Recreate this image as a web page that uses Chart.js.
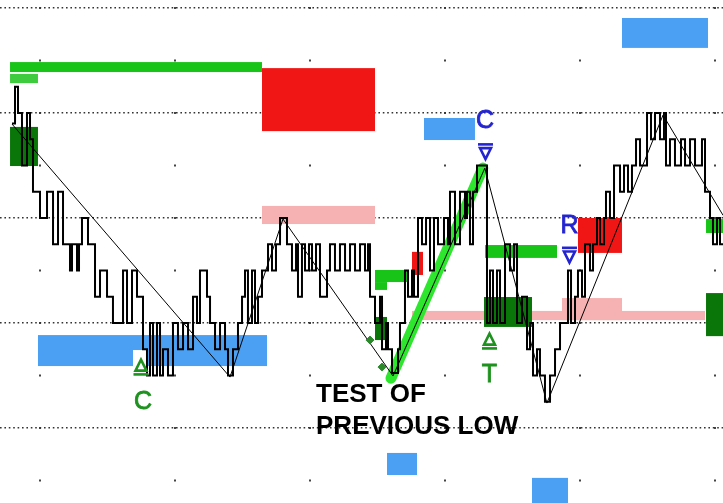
<!DOCTYPE html>
<html><head><meta charset="utf-8">
<script src="https://cdn.jsdelivr.net/npm/chart.js@4.4.0/dist/chart.umd.min.js"></script>
<style>html,body{margin:0;padding:0;background:#fff;}#wrap{width:723px;height:503px;position:relative;}</style>
</head><body><div id="wrap"><canvas id="c"></canvas></div>
<script>
// ---- data (x = bar time, 20 bars per vertical grid; y = price in box units) ----
const stepX = [-4.15,-3.70,-3.26,-2.67,-1.93,-1.48,-1.04,0,1.04,1.93,2.67,3.41,4.44,4.74,5.48,5.78,6.22,7.11,8.15,8.89,9.93,10.81,12.30,12.89,13.63,14.37,15.26,15.85,16.30,16.74,17.33,17.78,18.22,18.96,19.70,20.44,21.19,21.93,22.67,23.26,23.70,24.74,25.19,25.93,26.67,27.41,27.85,28.59,29.33,29.93,
30.37,30.81,31.41,31.85,32.30,32.89,33.78,34.37,34.96,35.56,36.59,37.33,37.93,38.22,38.81,39.26,39.85,40.30,40.89,41.48,42.52,42.96,43.70,44.44,45.19,45.93,46.67,47.41,48.15,
48.59,48.89,49.63,50.37,50.67,51.26,51.56,52.15,53.04,53.33,54.07,54.52,55.11,55.41,56.00,56.59,57.19,57.78,58.37,58.96,59.85,60.44,60.74,61.48,62.22,62.96,63.26,63.70,64.15,64.74,
66.22,66.67,67.11,67.70,68.15,68.89,69.63,70.22,70.67,71.41,72.15,72.59,73.04,73.63,74.07,74.81,75.56,76.30,77.04,78.22,78.67,79.26,79.70,80.30,80.74,81.48,81.93,82.52,82.96,83.56,
83.85,84.44,85.04,85.93,86.52,87.11,87.70,88.30,88.89,89.93,90.52,91.11,91.85,92.44,92.74,93.33,94.07,94.96,95.56,96.30,97.04,98.07,98.52,99.26,99.70,100.30,100.74,101.19];
const stepY = [13.6,15,14,12,14,13,11,10,11,9,11,9,8,9,8,9,10,9,7,8,7,6,8,6,8,7,5,4,6,4,6,4,5,4,6,5,6,5,7,6,8,7,6,5,6,5,4,5,6,7,
8,6,8,6,7,8,9,8,9,10,9,8,9,7,9,8,9,8,9,7,8,9,8,9,8,9,8,9,8,
9,7,6,7,5,6,5,4.1,5,6,8,7,8,7,10,9,10,8,10,9,10,9,11,9,11,10,11,9,11,12,
6,8,6,8,6,9,8,9,6,7,5,6,4,5,4,3,4,5,6,8,6,7,8,7,9,8,9,10,9,10,
11,10,12,11,12,11,12,13,12,14,13,14,13,14,12,13,12,13,12,13,12,13,11,10,9,10,9,9];
const swingX = [-4.15,28.15,36.0,52.3,65.9,75.1,92.3,101.2];
const swingY = [13.58,3.94,9.96,3.98,11.9,2.95,13.92,10.1];
const thrustX = [52.0,65.6];
const thrustY = [3.9,11.9];
const dotX = [48.89,50.67];
const dotY = [5.35,4.32];
// zones: kind, x from/to, price from/to
const zoneKind = ['trend','trendLight','demand','supply','target','mask','target','target','weakSupply','weakSupply','weakSupply','demand','trend','supply','demand','trend','trend','trend','demand','supply','target','target'];
const zoneX0 = [-4.44,-4.44,-4.44,32.89,-0.30,13.78,86.22,56.89,32.89,55.11,77.33,65.78,65.93,79.70,98.67,98.67,49.63,49.63,49.63,55.11,51.41,72.89];
const zoneX1 = [32.89,-0.30,-0.30,49.63,33.63,16.00,98.96,64.44,49.63,98.52,86.22,72.89,76.59,86.22,102,102,54.37,51.41,51.41,56.74,55.85,78.22];
const zoneY0 = [15.56,15.14,11.98,13.31,4.36,4.36,16.48,12.97,9.77,6.11,6.11,5.85,8.48,8.67,5.50,9.43,7.56,7.26,5.35,7.83,0.21,-0.86];
const zoneY1 = [15.94,15.49,13.47,15.71,5.54,4.97,17.62,13.81,10.46,6.46,6.95,6.99,8.97,10.00,7.14,9.96,8.02,7.56,6.23,8.71,1.05,0.10];
// signal markers
const markKind = ['buy','buy','sell','sell'];
const markX = [14.96,66.59,66.0,78.44];
const markY = [4.32,5.31,12.53,8.59];
// texts
const labelText = ['C','T','C','R','TEST OF','PREVIOUS LOW'];
const labelKind = ['buy','buy','sell','sell','note','note'];
const labelX = [15.26,66.59,65.93,78.44,40.89,40.89];
const labelY = [2.72,3.75,13.43,9.43,2.99,1.77];
const gridCols = [0,20,40,60,80,100];
const gridRows = [0,2,4,6,8,10,12,14,16,18];

// ---- styles ----
const zoneColor = {trend:'#17c417',trendLight:'#3ecc3e',demand:'#0a760a',supply:'#f01616',weakSupply:'#f6b2b2',target:'#4ba0f4',mask:'#ffffff'};
const markColor = {buy:'#1e921e',sell:'#2424d0',note:'#000000'};

const zonesPlugin = {
  id:'zones',
  beforeDatasetsDraw(chart){
    const {ctx, scales:{x,y}} = chart;
    ctx.save();
    zoneKind.forEach((k,i)=>{
      const a = x.getPixelForValue(zoneX0[i]), b = x.getPixelForValue(zoneX1[i]);
      const t = y.getPixelForValue(zoneY1[i]), u = y.getPixelForValue(zoneY0[i]);
      ctx.fillStyle = zoneColor[k];
      ctx.fillRect(a, t, b-a, u-t);
    });
    ctx.restore();
  }
};
const marksPlugin = {
  id:'marks',
  afterDatasetsDraw(chart){
    const {ctx, scales:{x,y}} = chart;
    ctx.save();
    markKind.forEach((k,i)=>{
      const cx = x.getPixelForValue(markX[i]), cy = y.getPixelForValue(markY[i]);
      ctx.strokeStyle = markColor[k]; ctx.fillStyle = markColor[k]; ctx.lineWidth = 2.6;
      ctx.beginPath();
      if (k==='sell'){
        ctx.fillRect(cx-7.5, cy-8.5, 15, 2.6);
        ctx.moveTo(cx-5.5, cy-3.5); ctx.lineTo(cx+5.5, cy-3.5); ctx.lineTo(cx, cy+7.5); ctx.closePath();
      } else {
        ctx.fillRect(cx-7.5, cy+6, 15, 2.6);
        ctx.moveTo(cx-5.5, cy+3.5); ctx.lineTo(cx+5.5, cy+3.5); ctx.lineTo(cx, cy-7.5); ctx.closePath();
      }
      ctx.stroke();
    });
    labelText.forEach((t,i)=>{
      const k = labelKind[i];
      const px = x.getPixelForValue(labelX[i]), py = y.getPixelForValue(labelY[i]);
      ctx.fillStyle = markColor[k];
      ctx.textBaseline = 'alphabetic';
      if (k==='note'){ ctx.font = 'bold 26px "Liberation Sans", Arial, sans-serif'; ctx.textAlign='left'; }
      else { ctx.font = '25px "Liberation Sans", Arial, sans-serif'; ctx.textAlign='center'; }
      ctx.fillText(t, px, py);
      if (k!=='note'){ ctx.lineWidth = 0.8; ctx.strokeStyle = markColor[k]; ctx.strokeText(t, px, py); }
    });
    ctx.restore();
  }
};

const pts = (xs, ys) => xs.map((v,i)=>({x:v, y:ys[i]}));
new Chart(document.getElementById('c'), {
  type:'line',
  data:{ datasets:[
    {data:pts(dotX,dotY), type:'scatter', pointStyle:'rectRot', pointRadius:4, backgroundColor:'#2a8a2a', borderColor:'#2a8a2a', order:0},
    {data:pts(swingX,swingY), borderColor:'#000', borderWidth:1, pointRadius:0, order:1},
    {data:pts(stepX,stepY), stepped:'before', borderColor:'#000', borderWidth:2, pointRadius:0, order:2},
    {data:pts(thrustX,thrustY), borderColor:'#2ee62e', borderWidth:11, borderCapStyle:'round', pointRadius:0, order:3}
  ]},
  options:{
    animation:false, responsive:true, maintainAspectRatio:false, devicePixelRatio:1,
    layout:{padding:0, autoPadding:false},
    plugins:{legend:{display:false}, tooltip:{enabled:false}},
    scales:{
      x:{type:'linear', min:-5.926, max:101.185,
         afterBuildTicks:(s)=>{ s.ticks = gridCols.map(v=>({value:v})); },
         ticks:{display:false},
         grid:{color:'#444', lineWidth:2, drawTicks:false},
         border:{display:false, dash:[2,50.5], dashOffset:45.5}},
      y:{type:'linear', min:-0.857, max:18.305,
         afterBuildTicks:(s)=>{ s.ticks = gridRows.map(v=>({value:v})); },
         ticks:{display:false},
         grid:{color:(c)=>{ const v = c.tick ? c.tick.value : 0; return (((v%4)+4)%4===2) ? '#333' : 'rgba(0,0,0,0)'; }, lineWidth:1.6, drawTicks:false},
         border:{display:false, dash:[1.6,2.8]}}
    }
  },
  plugins:[zonesPlugin, marksPlugin]
});
</script></body></html>
